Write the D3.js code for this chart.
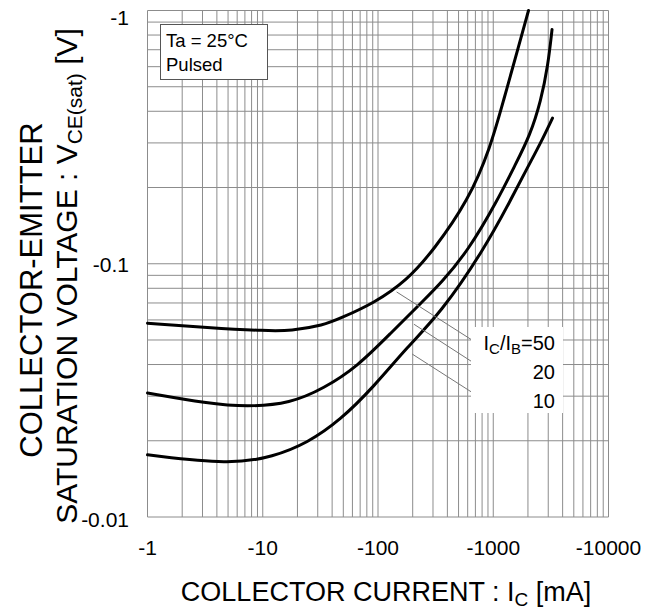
<!DOCTYPE html>
<html>
<head>
<meta charset="utf-8">
<script src="https://cdn.jsdelivr.net/npm/d3@7"></script>
<style>
  html, body { margin: 0; padding: 0; background: #fff; }
  svg { display: block; font-family: "Liberation Sans", Arial, sans-serif; }
</style>
</head>
<body>
<svg id="chart" width="664" height="611"></svg>
<script>
// ---- data (magnitudes; axes are labelled negative: PNP transistor) ----
const xTickValues = [1, 10, 100, 1000, 10000];
const xTickLabels = ["-1", "-10", "-100", "-1000", "-10000"];
const yTickValues = [0.01, 0.1, 1];
const yTickLabels = ["-0.01", "-0.1", "-1"];

const seriesNames = ["50", "20", "10"];
// collector current Ic [mA] and Vce(sat) [V]
const ic50 = [1, 3.3, 10.9, 17.4, 33.9, 47, 92, 179, 303, 610, 946, 1227, 1623, 2023];
const v50  = [0.0582, 0.056, 0.0543, 0.0543, 0.0572, 0.0609, 0.0698, 0.0861, 0.113, 0.178, 0.288, 0.441, 0.695, 1.0];
const ic20 = [1, 3.3, 7.3, 17.4, 33.9, 66, 128, 250, 349, 610, 1089, 1545, 2084, 2595, 2985, 3236];
const v20  = [0.0309, 0.0281, 0.0272, 0.0281, 0.0322, 0.0392, 0.053, 0.0718, 0.0835, 0.113, 0.178, 0.245, 0.321, 0.441, 0.607, 0.841];
const ic10 = [1, 5.25, 12.4, 24.4, 47, 92, 180, 349, 823, 1413, 1983, 2570, 3266];
const v10  = [0.0176, 0.0161, 0.0173, 0.0196, 0.0241, 0.0327, 0.047, 0.0638, 0.113, 0.178, 0.240, 0.299, 0.376];

// leader lines for the Ic/Ib labels: start on curve -> end at label box (data coords)
const leaderStartIc = [145, 205, 198];
const leaderStartV  = [0.0774, 0.0577, 0.0440];
const leaderEndIc   = [644, 644, 644];
const leaderEndV    = [0.0502, 0.0412, 0.0312];

// ---- layout ----
const svg = d3.select("#chart");
const L = 147.5, R = 608.5, T = 10.5, B = 517;
const x = d3.scaleLog().domain([1, 10000]).range([L, R]);
const y = d3.scaleLog().domain([0.01, 1]).range([B, T]);

// grid
const xGrid = [];
for (let d = 1; d < 10000; d *= 10) for (let k = 1; k <= 9; k++) xGrid.push(d * k);
xGrid.push(10000);
const yGrid = [];
for (let d = 0.01; d < 0.99; d *= 10) for (let k = 1; k <= 9; k++) yGrid.push(d * k);
yGrid.push(1);

const grid = svg.append("g");
grid.selectAll("line.v").data(xGrid).join("line")
  .attr("x1", d => x(d)).attr("x2", d => x(d))
  .attr("y1", T).attr("y2", B)
  .attr("stroke", "#8c8c8c").attr("stroke-width", 1);
grid.selectAll("line.h").data(yGrid).join("line")
  .attr("x1", L).attr("x2", R)
  .attr("y1", d => y(d)).attr("y2", d => y(d))
  .attr("stroke", "#8c8c8c").attr("stroke-width", 1);

// tick labels
svg.append("g").selectAll("text").data(xTickValues).join("text")
  .attr("x", d => x(d)).attr("y", 555)
  .attr("text-anchor", "middle").attr("font-size", 21).attr("fill", "#000")
  .text((d, i) => xTickLabels[i]);
svg.append("g").selectAll("text").data(yTickValues).join("text")
  .attr("x", 129)
  .attr("y", d => d === 1 ? 25 : (d === 0.01 ? 527 : y(d) + 8))
  .attr("text-anchor", "end").attr("font-size", 21).attr("fill", "#000")
  .text((d, i) => yTickLabels[i]);

// curves
const line = d3.line().x(d => x(d[0])).y(d => y(d[1])).curve(d3.curveBasis);
const series = [
  d3.zip(ic50, v50),
  d3.zip(ic20, v20),
  d3.zip(ic10, v10)
];
svg.append("g").selectAll("path").data(series).join("path")
  .attr("d", line).attr("fill", "none")
  .attr("stroke", "#000").attr("stroke-width", 3)
  .attr("stroke-linecap", "round").attr("stroke-linejoin", "round");

// Ta box
svg.append("rect").attr("x", 160.5).attr("y", 24.5).attr("width", 107).attr("height", 55)
  .attr("fill", "#fff").attr("stroke", "#555").attr("stroke-width", 1);
svg.append("text").attr("x", 166).attr("y", 47).attr("font-size", 18.5).text("Ta = 25°C");
svg.append("text").attr("x", 166).attr("y", 71).attr("font-size", 18.5).text("Pulsed");

// leader lines
svg.append("g").selectAll("line").data(seriesNames).join("line")
  .attr("x1", (d, i) => x(leaderStartIc[i])).attr("y1", (d, i) => y(leaderStartV[i]))
  .attr("x2", (d, i) => x(leaderEndIc[i])).attr("y2", (d, i) => y(leaderEndV[i]))
  .attr("stroke", "#777").attr("stroke-width", 1);

// label box
svg.append("rect").attr("x", 471).attr("y", 327).attr("width", 92).attr("height", 86)
  .attr("fill", "#fff").attr("stroke", "none");
const lab = svg.append("g").attr("font-size", 20).attr("text-anchor", "end");
const t1 = lab.append("text").attr("x", 555).attr("y", 350);
t1.append("tspan").text("I");
t1.append("tspan").attr("font-size", 15).attr("dy", 4).text("C");
t1.append("tspan").attr("dy", -4).text("/I");
t1.append("tspan").attr("font-size", 15).attr("dy", 4).text("B");
t1.append("tspan").attr("dy", -4).text("=" + seriesNames[0]);
lab.append("text").attr("x", 555).attr("y", 379).text(seriesNames[1]);
lab.append("text").attr("x", 555).attr("y", 408).text(seriesNames[2]);

// axis titles
const xt = svg.append("text").attr("x", 386).attr("y", 601).attr("text-anchor", "middle").attr("font-size", 27);
xt.append("tspan").text("COLLECTOR CURRENT : I");
xt.append("tspan").attr("font-size", 19).attr("dy", 5).text("C");
xt.append("tspan").attr("dy", -5).text(" [mA]");

svg.append("text").attr("transform", "translate(42,290) rotate(-90)")
  .attr("text-anchor", "middle").attr("font-size", 31).text("COLLECTOR-EMITTER");
const yt2 = svg.append("text").attr("transform", "translate(77,276) rotate(-90)")
  .attr("text-anchor", "middle").attr("font-size", 30);
yt2.append("tspan").text("SATURATION VOLTAGE : V");
yt2.append("tspan").attr("font-size", 21).attr("dy", 5).text("CE(sat)");
yt2.append("tspan").attr("dy", -5).text(" [V]");
</script>
</body>
</html>
